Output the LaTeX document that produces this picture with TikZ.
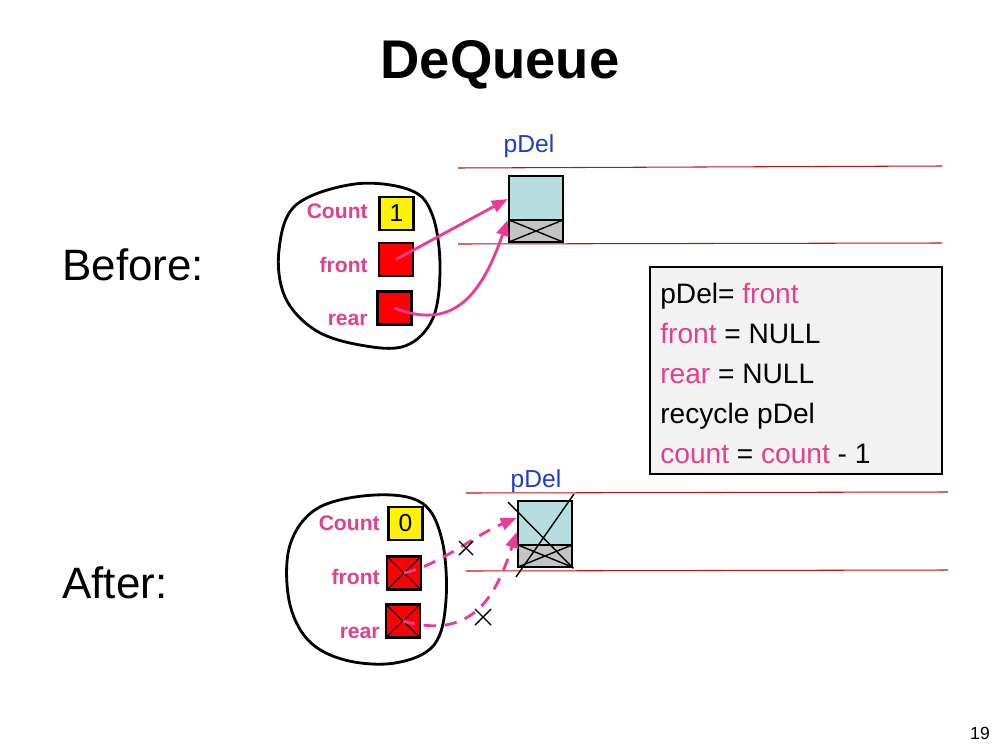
\documentclass[tikz,border=0pt]{standalone}
\usepackage{fontspec}
\setmainfont{Liberation Sans}
\usetikzlibrary{arrows.meta,calc}
\definecolor{pinkc}{RGB}{236,58,150}
\definecolor{lblc}{RGB}{226,64,140}
\definecolor{bluec}{RGB}{30,60,200}
\definecolor{cyanc}{RGB}{182,222,222}
\definecolor{grayc}{RGB}{196,196,196}
\definecolor{boxc}{RGB}{242,242,242}
\definecolor{linec}{RGB}{190,20,20}
\tikzset{
  cell/.style={draw=black, line width=1.4pt, minimum width=0.68cm, minimum height=0.66cm, inner sep=0pt, font=\fontsize{14}{16}\selectfont},
  cntcell/.style={cell, fill=yellow},
  ptrcell/.style={cell, fill=red},
  xcell/.style={ptrcell, path picture={\draw[black, line width=0.6pt] (path picture bounding box.north west) -- (path picture bounding box.south east) (path picture bounding box.north east) -- (path picture bounding box.south west);}},
  lbl/.style={text=lblc, font=\bfseries\fontsize{12}{14}\selectfont, anchor=base east, inner sep=0pt},
  nodebox/.style={draw=black, line width=1.6pt, minimum width=1.08cm, minimum height=1.32cm, inner sep=0pt,
    path picture={
      \fill[cyanc] (path picture bounding box.north west) rectangle ([yshift=0.44cm]path picture bounding box.south east);
      \fill[grayc] (path picture bounding box.south west) rectangle ([yshift=0.44cm]path picture bounding box.south east);
      \draw[black, line width=1.4pt] ([yshift=0.44cm]path picture bounding box.south west) -- ([yshift=0.44cm]path picture bounding box.south east);
      \draw[black, line width=0.8pt] ([yshift=0.44cm]path picture bounding box.south west) -- (path picture bounding box.south east)
        ([yshift=0.44cm]path picture bounding box.south east) -- (path picture bounding box.south west);
    }},
  ptrlbl/.style={text=bluec, font=\fontsize{14}{16}\selectfont, inner sep=0pt, anchor=base},
  blob/.style={black, line width=1.6pt},
  ptrarrow/.style={pinkc, line width=1.6pt, -{Triangle[length=9pt,width=7pt]}},
  dptrarrow/.style={ptrarrow, dash pattern=on 7pt off 5pt},
  rline/.style={linec, line width=0.6pt},
  xmark/.style={black, line width=0.8pt},
  codeline/.style={anchor=base west, inner sep=0pt, font=\fontsize{16}{19}\selectfont}
}
\newcommand{\pk}[1]{\textcolor{lblc}{#1}}
\begin{document}
\begin{tikzpicture}[x=0.02cm, y=-0.02cm]
\useasboundingbox (0,0) rectangle (1000,750);
% title
\node (title) at (500,65) {\bfseries\fontsize{31}{36}\selectfont DeQueue};
\node[anchor=base west, inner sep=0pt, font=\fontsize{25}{30}\selectfont] (before) at (62,280) {Before:};
\node[anchor=base west, inner sep=0pt, font=\fontsize{25}{30}\selectfont] (after) at (62,598) {After:};
\node[font=\fontsize{10}{12}\selectfont] (pg) at (980,733) {19};

% red lines
\draw[rline] (458,168) -- (942,166);
\draw[rline] (458,244) -- (942,243);
\draw[rline] (466,493) -- (948,492);
\draw[rline] (466,571) -- (948,570);

% ---------- Before ----------
\draw[blob] plot[smooth cycle, tension=0.6] coordinates {(355,184) (410,190) (432,214) (440,265) (433,318) (405,346) (360,345) (315,330) (285,297) (279,250) (296,205)};
\node[cntcell] (c1) at (396.5,213.5) {1};
\node[ptrcell] (f1) at (396,259.5) {};
\node[ptrcell] (r1) at (394.5,308) {};
\node[lbl] (lc1) at (368,218) {Count};
\node[lbl] (lf1) at (368,272) {front};
\node[lbl] (lr1) at (368,325) {rear};
\node[nodebox] (n1) at (536,209) {};
\node[ptrlbl] (p1) at (529,153) {pDel};
\draw[ptrarrow] (f1.center) -- (n1.west |- 0,199);
\draw[ptrarrow] (r1.center) .. controls (450,330) and (480,300) .. (n1.west |- 0,220);

% code box
\node[draw=black, fill=boxc, line width=0.7pt, minimum width=5.84cm, minimum height=4.14cm, inner sep=0pt] (code) at (796,370.5) {};
\node[codeline] (l1) at (660,303) {pDel= \pk{front}};
\node[codeline] (l2) at (660,343) {\pk{front} = NULL};
\node[codeline] (l3) at (660,383) {\pk{rear} = NULL};
\node[codeline] (l4) at (660,423) {recycle pDel};
\node[codeline] (l5) at (660,463) {\pk{count} = \pk{count} - 1};

% ---------- After ----------
\draw[blob] plot[smooth cycle, tension=0.6] coordinates {(375,495) (422,503) (442,540) (446,600) (434,645) (395,663) (345,660) (308,640) (289,600) (290,545) (318,508)};
\node[cntcell] (c2) at (405.5,523.5) {0};
\node[xcell] (f2) at (404,573) {};
\node[xcell] (r2) at (403,621) {};
\node[lbl] (lc2) at (380,530) {Count};
\node[lbl] (lf2) at (380,584) {front};
\node[lbl] (lr2) at (380,638) {rear};
\node[nodebox] (n2) at (545,534) {};
\node[ptrlbl] (p2) at (536,487) {pDel};
\draw[xmark] (508,502) -- (n2.south east);
\draw[xmark] (574,494) -- (516,577);
\draw[dptrarrow] (f2.center) .. controls (440,565) and (475,535) .. (n2.west |- 0,518);
\draw[dptrarrow] (r2.center) .. controls (470,640) and (495,600) .. (n2.west |- 0,532);
\coordinate (x1) at (466,548);
\coordinate (x2) at (483,617);
\draw[xmark] ($(x1)+(-7,-7)$) -- ($(x1)+(7,7)$) ($(x1)+(7,-7)$) -- ($(x1)+(-7,7)$);
\draw[xmark] ($(x2)+(-8,-8)$) -- ($(x2)+(8,8)$) ($(x2)+(8,-8)$) -- ($(x2)+(-8,8)$);
\end{tikzpicture}
\end{document}
